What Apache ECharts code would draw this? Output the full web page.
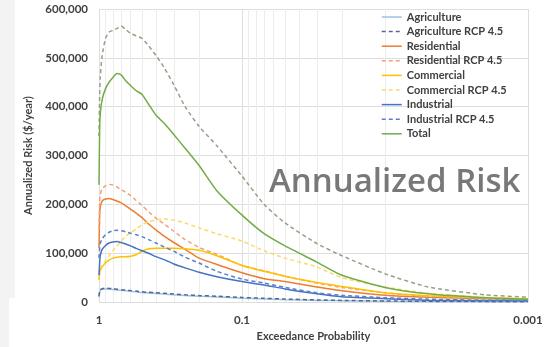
<!DOCTYPE html>
<html>
<head>
<meta charset="utf-8">
<script src="https://cdn.jsdelivr.net/npm/echarts@6/dist/echarts.min.js"></script>
<style>
html,body{margin:0;padding:0;background:#fff;}
#c{width:554px;height:347px;}
</style>
</head>
<body>
<div id="c"></div>
<script>
// Exceedance probabilities (x values)
var probs = [1, 0.99, 0.98, 0.95, 0.9, 0.85, 0.8, 0.75, 0.7, 0.65, 0.6, 0.55, 0.5, 0.45, 0.4, 0.35, 0.3, 0.25, 0.2, 0.15, 0.1, 0.07, 0.05, 0.03, 0.02, 0.01, 0.005, 0.002, 0.001];

var agriculture    = [10000, 20000, 24000, 26000, 27000, 26500, 26000, 25000, 24000, 23000, 22000, 21000, 19500, 18500, 17500, 16500, 15000, 13500, 12000, 10500, 8000, 6500, 5000, 3500, 2800, 1800, 1200, 800, 500];
var agricultureRcp = [12000, 22000, 25500, 27500, 28500, 28000, 27500, 26500, 25500, 24500, 23500, 22500, 21000, 20000, 19000, 18000, 16500, 15000, 13500, 12000, 9500, 7800, 6200, 4500, 3500, 2300, 1500, 1000, 700];
var residential    = [110000, 175000, 195000, 207000, 211000, 212000, 210000, 207000, 203000, 197000, 190000, 182000, 173000, 160000, 148000, 135000, 122000, 108000, 90000, 77000, 60000, 48000, 42000, 31000, 23000, 14000, 10000, 7000, 6000];
var residentialRcp = [150000, 205000, 220000, 232000, 238000, 241000, 240000, 236000, 230000, 225000, 218000, 208000, 198000, 185000, 172000, 160000, 145000, 128000, 112000, 98000, 75000, 64000, 53000, 39000, 30000, 19000, 12000, 8000, 6000];
var commercial     = [45000, 58000, 65000, 72000, 80000, 86000, 90000, 92000, 93000, 93000, 94000, 97000, 104000, 109000, 110000, 110000, 110000, 109000, 106000, 95000, 75000, 63000, 53000, 40000, 32000, 19000, 13000, 9000, 7000];
var commercialRcp  = [55000, 65000, 70000, 75000, 85000, 95000, 105000, 115000, 125000, 135000, 142000, 150000, 158000, 164000, 168000, 170000, 168000, 162000, 152000, 140000, 125000, 105000, 90000, 72000, 50000, 31000, 18000, 10000, 6000];
var industrial     = [55000, 80000, 95000, 108000, 116000, 121000, 123000, 124000, 122000, 119000, 115000, 110000, 105000, 100000, 93000, 87000, 78000, 70000, 61000, 52000, 42000, 35000, 27000, 17000, 11000, 7000, 4000, 3000, 2000];
var industrialRcp  = [90000, 110000, 120000, 130000, 138000, 143000, 146000, 147000, 146000, 144000, 141000, 138000, 134000, 128000, 121000, 113000, 104000, 92000, 80000, 63000, 47000, 39000, 30000, 19000, 14000, 9000, 6000, 4000, 4000];
var total          = [240000, 350000, 385000, 415000, 437000, 450000, 460000, 468000, 465000, 453000, 443000, 433000, 425000, 405000, 383000, 366000, 343000, 315000, 280000, 228000, 178000, 140000, 115000, 82000, 55000, 30000, 17000, 9000, 6000];
var totalRcp       = [340000, 420000, 460000, 505000, 540000, 553000, 556000, 560000, 565000, 558000, 550000, 545000, 540000, 525000, 505000, 480000, 445000, 400000, 360000, 320000, 258000, 200000, 162000, 120000, 95000, 58000, 31000, 15000, 10000];

var xTickValues = [1, 0.1, 0.01, 0.001];
var xTickLabels = ['1', '0.1', '0.01', '0.001'];
var minorGrid = [0.9,0.8,0.7,0.6,0.5,0.4,0.3,0.2, 0.09,0.08,0.07,0.06,0.05,0.04,0.03,0.02, 0.009,0.008,0.007,0.006,0.005,0.004,0.003,0.002];

function pairs(vals){ return probs.map(function(p,i){ return [p, vals[i]]; }); }

var font = 'Lato, "Open Sans", sans-serif';
var txt = '#404040';

function mk(name, vals, color, dash, width){
  return {
    name: name, type: 'line', data: pairs(vals), symbol: 'none', showSymbol: false,
    smooth: 0.2, z: 3,
    lineStyle: {color: color, width: width || 1.5, type: dash ? [4,3] : 'solid'},
    itemStyle: {color: color}
  };
}

var series = [
  {name: 'grid', type: 'line', data: [[1,0]], symbol: 'none', lineStyle: {opacity: 0}, z: 0, silent: true,
   markLine: {silent: true, symbol: 'none', label: {show: false}, z: 0,
     lineStyle: {color: '#ededed', width: 1, type: 'solid'},
     data: minorGrid.map(function(v){ return {xAxis: v}; })}},
  mk('Total RCP 4.5', totalRcp, '#93a286', true),
  mk('Agriculture', agriculture, '#9dc3e6', false),
  mk('Agriculture RCP 4.5', agricultureRcp, '#55698f', true),
  mk('Residential', residential, '#ed7d31', false),
  mk('Residential RCP 4.5', residentialRcp, '#f2a07b', true),
  mk('Commercial', commercial, '#ffc000', false),
  mk('Commercial RCP 4.5', commercialRcp, '#ffd966', true),
  mk('Industrial', industrial, '#4472c4', false),
  mk('Industrial RCP 4.5', industrialRcp, '#5a7fcc', true),
  mk('Total', total, '#70ad47', false)
];

var chart = echarts.init(document.getElementById('c'), null, {renderer: 'canvas'});
chart.setOption({
  backgroundColor: '#ffffff',
  animation: false,
  grid: {left: 99, right: 26, top: 9, bottom: 44, containLabel: false},
  graphic: [
    {type: 'rect', left: 0, top: 0, shape: {width: 15, height: 298}, style: {fill: '#f3f3f3'}, z: -10},
    {type: 'rect', left: 0, top: 298, shape: {width: 9, height: 49}, style: {fill: '#f3f3f3'}, z: -10},
    {type: 'text', left: 269, top: 166, z: 10,
     style: {text: 'Annualized Risk', font: '600 33px "Open Sans", sans-serif', fill: '#787878',
             shadowBlur: 3, shadowColor: 'rgba(0,0,0,0.4)', shadowOffsetX: 1, shadowOffsetY: 2}}
  ],
  legend: {
    orient: 'vertical', left: 381, top: 11, padding: 0,
    itemWidth: 20, itemHeight: 12, itemGap: 2.6,
    itemStyle: {opacity: 0},
    lineStyle: {width: 1.5},
    data: ['Agriculture','Agriculture RCP 4.5','Residential','Residential RCP 4.5','Commercial','Commercial RCP 4.5','Industrial','Industrial RCP 4.5','Total'],
    textStyle: {fontFamily: font, fontSize: 11, fontWeight: 'bold', color: txt, lineHeight: 12}
  },
  xAxis: {
    type: 'log', logBase: 10, min: 0.001, max: 1, inverse: true,
    name: 'Exceedance Probability', nameLocation: 'middle', nameGap: 26,
    nameTextStyle: {fontFamily: font, fontSize: 11, fontWeight: 'bold', color: txt},
    axisLine: {show: false}, axisTick: {show: false},
    axisLabel: {fontFamily: font, fontSize: 11.5, fontWeight: 'bold', color: txt, margin: 12,
      formatter: function(v){ for (var i=0;i<xTickValues.length;i++){ if (Math.abs(Math.log10(v)-Math.log10(xTickValues[i]))<1e-6) return xTickLabels[i]; } return ''; }},
    splitLine: {show: true, lineStyle: {color: '#dedede', width: 1}}
  },
  yAxis: {
    type: 'value', min: 0, max: 600000, interval: 100000,
    name: 'Annualized Risk ($/year)', nameLocation: 'middle', nameGap: 57,
    nameTextStyle: {fontFamily: font, fontSize: 11, fontWeight: 'bold', color: txt},
    axisLine: {show: false}, axisTick: {show: false},
    axisLabel: {fontFamily: font, fontSize: 11.5, fontWeight: 'bold', color: txt, margin: 11,
      formatter: function(v){ return v.toLocaleString('en-US'); }},
    splitLine: {show: true, lineStyle: {color: '#dedede', width: 1}}
  },
  series: series
});
</script>
</body>
</html>
